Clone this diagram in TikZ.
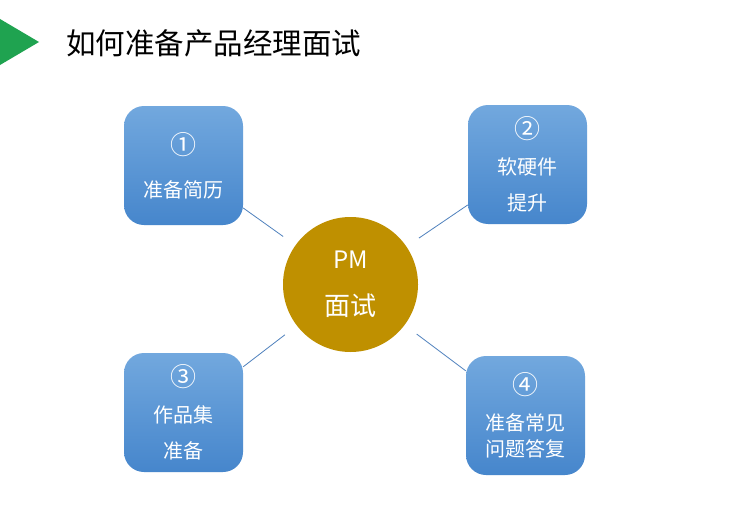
\documentclass[tikz,border=0pt]{standalone}
\usepackage{fontspec}
\setmainfont{Noto Sans CJK SC}
\definecolor{boxtop}{RGB}{114,168,222}
\definecolor{boxbot}{RGB}{70,134,204}
\definecolor{pmgold}{RGB}{191,144,0}
\definecolor{linkblue}{RGB}{79,129,189}
\definecolor{arrowgreen}{RGB}{31,163,80}
\newcommand\stepnum[1]{{\fontsize{26}{36}\selectfont #1}}
\tikzset{
  stepbox/.style={rounded corners=20pt,minimum width=119pt,minimum height=119pt,
    top color=boxtop,bottom color=boxbot,text=white,align=center,
    font=\fontsize{20}{36}\selectfont,inner sep=0pt},
  link/.style={draw=linkblue,line width=0.8pt,shorten >=15pt}
}
\begin{document}
\begin{tikzpicture}[x=1pt,y=-1pt]
	\useasboundingbox[fill=white] (0,0) rectangle (730,511);
	\fill[arrowgreen] (0,19)--(39,42)--(0,65)--cycle;
	\node[anchor=west,font=\fontsize{29.5}{34}\selectfont,inner sep=0pt] (title) at (66,43) {如何准备产品经理面试};
	\node[circle,fill=pmgold,minimum size=135pt,inner sep=0pt,text=white,align=center,
	  font=\fontsize{26}{47}\selectfont] (pm) at (350.5,284.5) {{\fontsize{24}{47}\selectfont PM}\\面试};
	\node[stepbox] (resume) at (183.5,165.5) {\stepnum{①}\\[7pt]准备简历};
	\node[stepbox] (skills) at (527.5,164.5) {\stepnum{②}\\软硬件\\提升};
	\node[stepbox] (works) at (183.5,412.5) {\stepnum{③}\\作品集\\准备};
	\node[stepbox] (answers) at (525.5,415.5) {\stepnum{④}\\准备常见\\[-10pt]问题答复};
	\draw[link] (resume)--(pm); \draw[link] (skills)--(pm);
	\draw[link] (works)--(pm); \draw[link] (answers)--(pm);
\end{tikzpicture}
\end{document}
